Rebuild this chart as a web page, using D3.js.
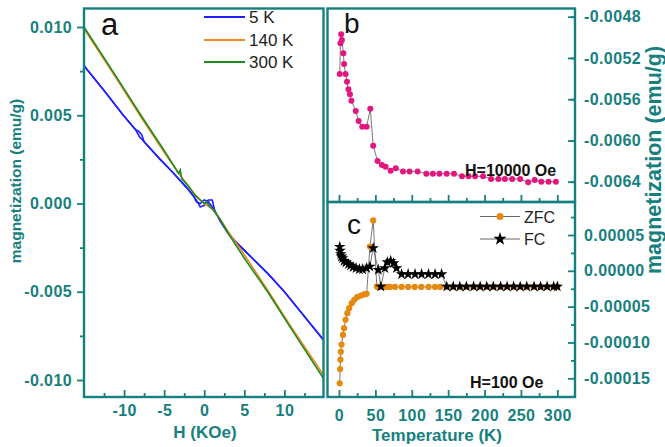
<!DOCTYPE html>
<html>
<head>
<meta charset="utf-8">
<script src="https://cdn.jsdelivr.net/npm/d3@7"></script>
<style>
  body { margin: 0; background: #fff; }
  svg text { font-family: "Liberation Sans", Arial, sans-serif; }
</style>
</head>
<body>
<svg id="chart" width="665" height="447"></svg>
<script>
// ---- panel a : M(H) loops, [H (kOe), M (emu/g)]
const loop5K = [[-15,0.0078],[-12.5,0.0064],[-10.1,0.0050],[-8.6,0.0042],[-8.1,0.0038],[-7.5,0.0035],[-5.5,0.0025],[-4,0.0018],[-2.2,0.0009],[-1.3,0.0004],[-1,0.0001],[-0.5,0.0000],[0,0.0002],[0.5,0.0001],[1,-0.0002],[1.3,-0.0004],[2,-0.0010],[3,-0.0017],[4,-0.0022],[6,-0.0031],[8,-0.0040],[10,-0.0050],[12.5,-0.0064],[15,-0.0078]];
const loop5Kback = [[15,-0.0078],[12.5,-0.0064],[10,-0.0050],[8,-0.0040],[6,-0.0031],[4,-0.0022],[3,-0.0017],[2,-0.0010],[1.3,-0.0004],[1,0.0002],[0.5,0.0002],[0,-0.0001],[-0.5,-0.0002],[-1,0.0002],[-1.3,0.0004],[-2.2,0.0009],[-4,0.0018],[-5.5,0.0025],[-7.5,0.0035],[-7.8,0.0039],[-8.2,0.0041],[-8.6,0.0042],[-10.1,0.0050],[-12.5,0.0064],[-15,0.0078]];
const loop140K = [[-15,0.0099],[-11,0.0071],[-7.9,0.0049],[-5,0.0029],[-3,0.0016],[-2,0.0010],[-1,0.0004],[0,0.0000],[1,-0.0003],[2,-0.0009],[3,-0.0016],[5,-0.0029],[7.9,-0.0049],[11,-0.0071],[15,-0.0098]];
const loop300K = [[-15,0.0100],[-11,0.0072],[-7.9,0.0050],[-5,0.0030],[-3.2,0.0017],[-3.0,0.0019],[-2.8,0.0014],[-2,0.0010],[-1.2,0.0005],[-0.5,0.0002],[0,0.0000],[0.3,0.0001],[0.7,-0.0002],[1,-0.0003],[2,-0.0009],[3,-0.0017],[5,-0.0031],[7.9,-0.0050],[11,-0.0072],[15,-0.0100]];
const legendA = ['5 K', '140 K', '300 K'];

// ---- panel b : M(T) at 10000 Oe
const tempB = [1,2,3,4,6,7,9,11,13,15,17,23,27,32,38,43,47,53,59,64,71,78,88,97,108,120,129,138,148,158,169,178,187,198,209,219,228,238,249,260,269,278,288,298];
const magB = [-0.005356,-0.005058,-0.004971,-0.005026,-0.005155,-0.005259,-0.005356,-0.00543,-0.005504,-0.005553,-0.005615,-0.005714,-0.005811,-0.005867,-0.005867,-0.005692,-0.006051,-0.006199,-0.006238,-0.006254,-0.006293,-0.00627,-0.0063,-0.0063,-0.0063,-0.006322,-0.006322,-0.006322,-0.006322,-0.006322,-0.006348,-0.006348,-0.006348,-0.006348,-0.006374,-0.006374,-0.006374,-0.006374,-0.006374,-0.006406,-0.006383,-0.0064,-0.0064,-0.0064];

// ---- panel c : ZFC / FC at 100 Oe
const tempZFC = [1,1.5,2,2.5,3.5,5.5,7,9,11.5,14,17.5,21,25,30,34.5,38,42.5,47,52,54,56,58,61,64,67,70,77,86,95,104,113,123,132,139,148,157,167,176,185,194,204,213,222,231,240,250,259,268,277,286,295,300];
const magZFC = [-0.000157,-0.000137,-0.000124,-0.000113,-0.000103,-0.0000894,-0.00008,-0.0000684,-0.0000591,-0.0000521,-0.0000451,-0.0000405,-0.0000368,-0.0000345,-0.000033,-0.0000321,0.0000339,0.0000703,-0.0000219,-0.0000225,-0.0000225,-0.0000225,-0.0000225,-0.0000225,-0.0000225,-0.0000225,-0.0000225,-0.0000225,-0.0000225,-0.0000225,-0.0000225,-0.0000225,-0.0000225,-0.0000225,-0.0000225,-0.0000225,-0.0000225,-0.0000225,-0.0000225,-0.0000225,-0.0000225,-0.0000225,-0.0000225,-0.0000225,-0.0000225,-0.0000225,-0.0000225,-0.0000225,-0.0000225,-0.0000225,-0.0000225,-0.0000225];
const tempFC = [1,1.5,2.5,3.5,5,7,9.5,13,16,19.5,23.5,28,32.5,38,42.5,47,54,57.5,63,66.5,71,75,79,86,95,104.5,113.5,123,132,141,148,157,166,175,185,194,203,212,222,231,240,249,258,268,277,286,295,300];
const magFC = [0.0000335,0.000028,0.0000233,0.00002,0.0000177,0.000014,0.0000116,0.0000093,0.0000074,0.0000051,0.0000037,0.0000023,0.0000023,0.0000037,0.000006,0.0000317,0.0000014,-0.0000219,0.0000037,0.0000121,0.000014,0.0000107,0.0000037,-0.0000047,-0.0000047,-0.0000047,-0.0000047,-0.0000047,-0.0000047,-0.0000047,-0.0000219,-0.0000219,-0.0000219,-0.0000219,-0.0000219,-0.0000219,-0.0000219,-0.0000219,-0.0000219,-0.0000219,-0.0000219,-0.0000219,-0.0000219,-0.0000219,-0.0000219,-0.0000219,-0.0000219,-0.0000219];
const legendC = ['ZFC', 'FC'];

const ticksH = [-10, -5, 0, 5, 10];
const ticksMA = [0.010, 0.005, 0, -0.005, -0.010];
const ticksT = [0, 50, 100, 150, 200, 250, 300];
const ticksMB = [-0.0048, -0.0052, -0.0056, -0.0060, -0.0064];
const ticksMC = [0.00005, 0, -0.00005, -0.00010, -0.00015];

const teal = '#16807e';
const svg = d3.select('#chart');

const xA = d3.scaleLinear([-15, 15], [84, 324.5]);
const yA = d3.scaleLinear([-0.01, 0.01], [380, 27]);
const xT = d3.scaleLinear([0, 300], [339, 557.3]);
const yB = d3.scaleLinear([-0.0064, -0.0048], [181.7, 16.7]);
const yC = d3.scaleLinear([-0.00015, 0.00005], [378.3, 235]);

const boxA = {x0: 84, x1: 323.5, y0: 8.5, y1: 397};
const boxB = {x0: 327.5, x1: 575, y0: 8.5, y1: 202};
const boxC = {x0: 327.5, x1: 575, y0: 202, y1: 397};

const defs = svg.append('defs');
function clip(id, b) {
  defs.append('clipPath').attr('id', id).append('rect')
    .attr('x', b.x0).attr('y', b.y0).attr('width', b.x1 - b.x0).attr('height', b.y1 - b.y0);
  return svg.append('g').attr('clip-path', 'url(#' + id + ')');
}

function styleAxis(g) {
  g.select('.domain').remove();
  g.selectAll('line').attr('stroke', teal).attr('stroke-width', 1.8);
  g.selectAll('text').attr('fill', teal).attr('font-size', 16).attr('font-weight', 'bold')
    .attr('font-family', '"Liberation Sans", Arial, sans-serif').attr('letter-spacing', 0.4);
}

function minors(lo, hi, step) {
  const out = [];
  for (let v = lo; v <= hi + step / 100; v += step) out.push(+v.toFixed(8));
  return out;
}

// ---- panel a axes
svg.append('g').attr('transform', 'translate(84,0)')
  .call(d3.axisLeft(yA).tickValues(ticksMA).tickSize(7).tickPadding(5).tickFormat(d => d.toFixed(3)))
  .call(styleAxis);
svg.append('g').attr('transform', 'translate(84,0)')
  .call(d3.axisLeft(yA).tickValues(minors(-0.0075, 0.0075, 0.005)).tickSize(4).tickFormat(''))
  .call(styleAxis);
svg.append('g').attr('transform', 'translate(0,397)')
  .call(d3.axisBottom(xA).tickValues(ticksH).tickSize(-7).tickPadding(8).tickFormat(d => d))
  .call(styleAxis);
svg.append('g').attr('transform', 'translate(0,397)')
  .call(d3.axisBottom(xA).tickValues(minors(-12.5, 12.5, 5)).tickSize(-4).tickFormat(''))
  .call(styleAxis);

// ---- panel b axes
svg.append('g').attr('transform', 'translate(575,0)')
  .call(d3.axisRight(yB).tickValues(ticksMB).tickSize(-7).tickPadding(9).tickFormat(d => d.toFixed(4)))
  .call(styleAxis);
svg.append('g').attr('transform', 'translate(575,0)')
  .call(d3.axisRight(yB).tickValues(minors(-0.0066, -0.0046, 0.0004).map(v => v + 0.0002).filter(v => v > -0.0066 && v < -0.0047)).tickSize(-4).tickFormat(''))
  .call(styleAxis);
svg.append('g').attr('transform', 'translate(0,202)')
  .call(d3.axisBottom(xT).tickValues(ticksT).tickSize(-7).tickFormat(''))
  .call(styleAxis);
svg.append('g').attr('transform', 'translate(0,202)')
  .call(d3.axisBottom(xT).tickValues(minors(25, 275, 50)).tickSize(-4).tickFormat(''))
  .call(styleAxis);

// ---- panel c axes
svg.append('g').attr('transform', 'translate(575,0)')
  .call(d3.axisRight(yC).tickValues(ticksMC).tickSize(-7).tickPadding(9).tickFormat(d => d.toFixed(5)))
  .call(styleAxis);
svg.append('g').attr('transform', 'translate(575,0)')
  .call(d3.axisRight(yC).tickValues(minors(-0.000175, 0.000075, 0.00005)).tickSize(-4).tickFormat(''))
  .call(styleAxis);
svg.append('g').attr('transform', 'translate(0,397)')
  .call(d3.axisBottom(xT).tickValues(ticksT).tickSize(-7).tickPadding(13).tickFormat(d => d))
  .call(styleAxis);
svg.append('g').attr('transform', 'translate(0,397)')
  .call(d3.axisBottom(xT).tickValues(minors(25, 275, 50)).tickSize(-4).tickFormat(''))
  .call(styleAxis);

// ---- panel a data
const gA = clip('clipA', boxA);
const lineA = d3.line().x(d => xA(d[0])).y(d => yA(d[1]));
const seriesA = [
  {data: loop5K, color: '#1f1fff'},
  {data: loop5Kback, color: '#1f1fff'},
  {data: loop140K, color: '#f08a24'},
  {data: loop300K, color: '#1e8c1e'}
];
gA.selectAll('path.ser').data(seriesA).join('path')
  .attr('class', 'ser')
  .attr('d', d => lineA(d.data))
  .attr('fill', 'none')
  .attr('stroke', d => d.color)
  .attr('stroke-width', 1.6);

const legColors = ['#1f1fff', '#f08a24', '#1e8c1e'];
const legY = [17, 40, 62];
legendA.forEach((name, i) => {
  svg.append('line').attr('x1', 204).attr('x2', 245).attr('y1', legY[i]).attr('y2', legY[i])
    .attr('stroke', legColors[i]).attr('stroke-width', 1.8);
  svg.append('text').attr('x', 249).attr('y', legY[i] + 6).attr('font-size', 17)
    .attr('fill', '#222').text(name);
});

// ---- panel b data
const gB = clip('clipB', boxB);
const ptsB = tempB.map((t, i) => [t, magB[i]]);
gB.append('path')
  .attr('d', d3.line().x(d => xT(d[0])).y(d => yB(d[1]))(ptsB))
  .attr('fill', 'none').attr('stroke', '#555').attr('stroke-width', 0.8);
gB.selectAll('circle').data(ptsB).join('circle')
  .attr('cx', d => xT(d[0])).attr('cy', d => yB(d[1])).attr('r', 3)
  .attr('fill', '#e3157e');

// ---- panel c data
const gC = clip('clipC', boxC);
const ptsZFC = tempZFC.map((t, i) => [t, magZFC[i]]);
const ptsFC = tempFC.map((t, i) => [t, magFC[i]]);
const lineC = d3.line().x(d => xT(d[0])).y(d => yC(d[1]));
gC.append('path').attr('d', lineC(ptsZFC))
  .attr('fill', 'none').attr('stroke', '#555').attr('stroke-width', 0.8);
gC.selectAll('circle').data(ptsZFC).join('circle')
  .attr('cx', d => xT(d[0])).attr('cy', d => yC(d[1])).attr('r', 3.1)
  .attr('fill', '#e5890f');
gC.append('path').attr('d', lineC(ptsFC))
  .attr('fill', 'none').attr('stroke', '#555').attr('stroke-width', 0.8);
const star = d3.symbol().type(d3.symbolStar).size(42);
gC.selectAll('path.star').data(ptsFC).join('path')
  .attr('class', 'star')
  .attr('transform', d => `translate(${xT(d[0])},${yC(d[1])})`)
  .attr('d', star).attr('fill', '#000');

// legend c
const legCY = [216.5, 239];
legendC.forEach((name, i) => {
  svg.append('line').attr('x1', 480).attr('x2', 520).attr('y1', legCY[i]).attr('y2', legCY[i])
    .attr('stroke', '#555').attr('stroke-width', 0.9);
  if (i == 0) {
    svg.append('circle').attr('cx', 500).attr('cy', legCY[i]).attr('r', 3.5).attr('fill', '#e5890f');
  }
  else {
    svg.append('path').attr('transform', `translate(500,${legCY[i]})`)
      .attr('d', d3.symbol().type(d3.symbolStar).size(55)).attr('fill', '#000');
  }
  svg.append('text').attr('x', 524).attr('y', legCY[i] + 6).attr('font-size', 16)
    .attr('fill', '#222').text(name);
});

// ---- frames
for (const b of [boxA, boxB, boxC]) {
  svg.append('rect').attr('x', b.x0).attr('y', b.y0)
    .attr('width', b.x1 - b.x0).attr('height', b.y1 - b.y0)
    .attr('fill', 'none').attr('stroke', teal).attr('stroke-width', 2.4);
}

// ---- panel letters and notes
svg.append('text').attr('x', 101).attr('y', 35).attr('font-size', 31).attr('fill', '#111').text('a');
svg.append('text').attr('x', 344).attr('y', 33).attr('font-size', 28).attr('fill', '#111').text('b');
svg.append('text').attr('x', 347).attr('y', 234).attr('font-size', 28).attr('fill', '#111').text('c');
svg.append('text').attr('x', 465).attr('y', 176).attr('font-size', 16).attr('font-weight', 'bold')
  .attr('fill', '#111').text('H=10000 Oe');
svg.append('text').attr('x', 470).attr('y', 388).attr('font-size', 16).attr('font-weight', 'bold')
  .attr('fill', '#111').text('H=100 Oe');

// ---- axis titles
svg.append('text').attr('x', 205).attr('y', 438).attr('text-anchor', 'middle')
  .attr('font-size', 17).attr('font-weight', 'bold').attr('fill', teal).text('H (KOe)');
svg.append('text').attr('x', 437).attr('y', 441).attr('text-anchor', 'middle')
  .attr('font-size', 17).attr('font-weight', 'bold').attr('fill', teal).text('Temperature (K)');
svg.append('text').attr('transform', 'translate(21,181) rotate(-90)').attr('text-anchor', 'middle')
  .attr('font-size', 15.5).attr('font-weight', 'bold').attr('fill', teal).text('magnetization (emu/g)');
svg.append('text').attr('transform', 'translate(661,160) rotate(-90)').attr('text-anchor', 'middle')
  .attr('font-size', 21.5).attr('font-weight', 'bold').attr('fill', teal).text('magnetization (emu/g)');
</script>
</body>
</html>
